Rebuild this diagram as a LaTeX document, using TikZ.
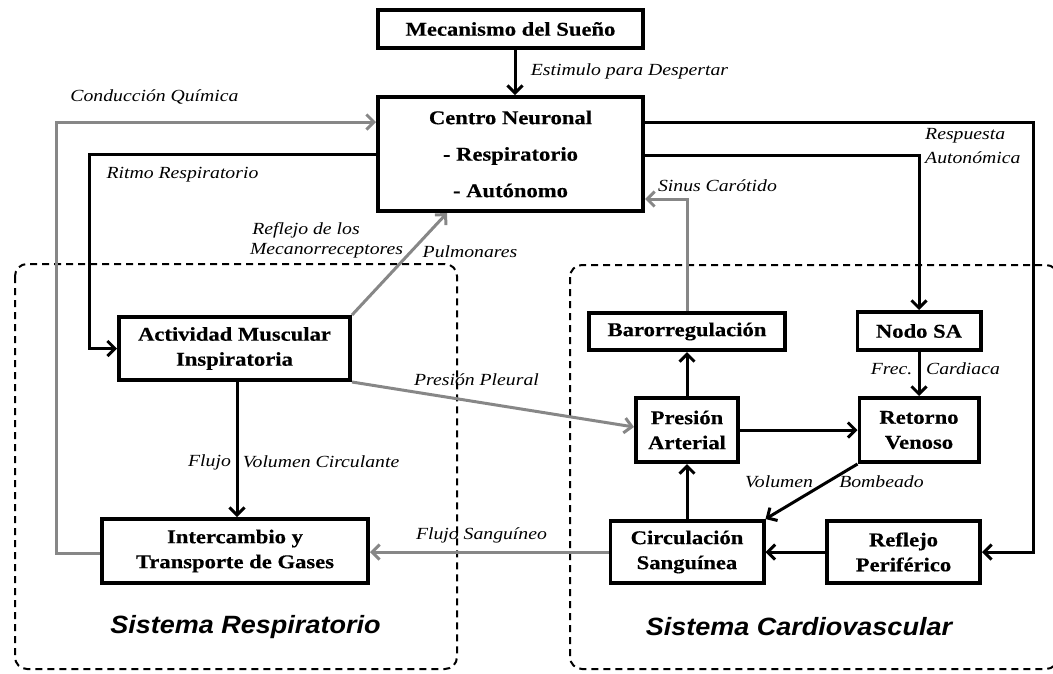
\documentclass[tikz,border=0pt]{standalone}
\usepackage{fontspec}
\setmainfont{Liberation Serif}[FakeStretch=1.16, BoldFeatures={FakeBold=0.4}]
\newfontfamily\sysfont{Liberation Sans}[FakeStretch=1.08]
\usetikzlibrary{arrows.meta}
\definecolor{linkgray}{RGB}{135,135,135}
\tikzset{
  blk/.style={draw=black, line width=3.6pt, fill=white, align=center, inner sep=0pt,
    font=\bfseries\fontsize{19.5}{25}\selectfont},
  lbl/.style={inner sep=0pt, font=\itshape\fontsize{17}{20}\selectfont},
  conn/.style={line width=3pt, -{Straight Barb[length=7.5pt,width=15pt]}},
  grayconn/.style={conn, draw=linkgray},
  region/.style={draw, line width=2pt, rounded corners=12pt, dash pattern=on 7pt off 5pt},
  systitle/.style={inner sep=0pt, font=\sysfont\bfseries\itshape\fontsize{25}{30}\selectfont}
}
\begin{document}
\begin{tikzpicture}[x=1pt,y=-1pt]
\useasboundingbox (0,0) rectangle (1053,673);

% subsystem regions
\draw[region] (15,264) rectangle (457,669);
\draw[region] (570,265) rectangle (1058,669);

% blocks
\node[blk, minimum width=265.4pt, minimum height=38.4pt] (sueno) at (510.5,29) {Mecanismo del Sueño};
\node[blk, minimum width=265.4pt, minimum height=114.4pt, font=\bfseries\fontsize{19.5}{36.5}\selectfont] (centro) at (510.5,154)
  {Centro Neuronal\\- Respiratorio\\- Autónomo};
\node[blk, minimum width=231.4pt, minimum height=63.4pt] (act) at (234.5,348.5) {Actividad Muscular\\Inspiratoria};
\node[blk, minimum width=266.4pt, minimum height=64.4pt] (inter) at (235,551) {Intercambio y\\Transporte de Gases};
\node[blk, minimum width=196.4pt, minimum height=37.4pt] (baro) at (687,331.5) {Barorregulación};
\node[blk, minimum width=123.4pt, minimum height=38.4pt] (nodo) at (919,331) {Nodo SA};
\node[blk, minimum width=102.4pt, minimum height=64.4pt] (pres) at (687,430) {Presión\\Arterial};
\node[blk, minimum width=119.4pt, minimum height=64.4pt] (ret) at (919,430) {Retorno\\Venoso};
\node[blk, minimum width=153.4pt, minimum height=62.4pt] (circ) at (687,552) {Circulación\\Sanguínea};
\node[blk, minimum width=153.4pt, minimum height=62.4pt] (refl) at (903.5,552) {Reflejo\\Periférico};

% connectors
\draw[conn] ([xshift=4.5pt]sueno.south) -- ([xshift=4.5pt]centro.north);
\draw[grayconn] ([yshift=-2pt]inter.west) -- ++(-44,0) |- ([yshift=32pt]centro.west);
\draw[conn] (centro.west) -- ++(-287,0) |- (act.west);
\draw[grayconn] (act.north east) -- ([xshift=-63.5pt]centro.south);
\draw[conn] ([xshift=2.5pt]act.south) -- ([xshift=2.5pt]act.south |- inter.north);
\draw[grayconn] (act.south east) -- ([yshift=3pt]pres.west);
\draw[grayconn] (circ.west) -- (circ.west -| inter.east);
\draw[grayconn] (baro.north) |- ([yshift=-45pt]centro.east);
\draw[conn] (pres.north) -- (baro.south);
\draw[conn] (circ.north) -- (pres.south);
\draw[conn] (pres.east) -- (ret.west);
\draw[conn] (nodo.south) -- (ret.north);
\draw[conn] (ret.south west) -- (circ.north east);
\draw[conn] (refl.west) -- (circ.east);
\draw[conn] ([yshift=32pt]centro.east) -- ++(388,0) |- (refl.east);
\draw[conn] ([yshift=-1pt]centro.east) -| (nodo.north);

% connector labels
\node[lbl] (lestim) at (629.5,71) {Estimulo para Despertar};
\node[lbl] (lcond) at (154.5,97) {Conducción Química};
\node[lbl] (lritmo) at (182.5,175) {Ritmo Respiratorio};
\node[lbl] (lrefa) at (306,230) {Reflejo de los};
\node[lbl] (lrefb) at (326.5,251) {Mecanorreceptores};
\node[lbl] (lrefc) at (470,252) {Pulmonares};
\node[lbl] (lpleu) at (476.5,380) {Presión Pleural};
\node[lbl] (lfluj) at (209.5,462) {Flujo};
\node[lbl] (lvolc) at (321,462) {Volumen Circulante};
\node[lbl] (lsang) at (481.5,535) {Flujo Sanguíneo};
\node[lbl] (lsinus) at (717.5,186) {Sinus Carótido};
\node[lbl, anchor=west] (lresp) at (925,136) {Respuesta};
\node[lbl, anchor=west] (lauto) at (925,158) {Autonómica};
\node[lbl] (lfrec) at (891.5,369) {Frec.};
\node[lbl] (lcard) at (963,369) {Cardiaca};
\node[lbl] (lvolb) at (779,482) {Volumen};
\node[lbl] (lbomb) at (881.5,482) {Bombeado};

% subsystem titles
\node[systitle] (tresp) at (245.5,627) {Sistema Respiratorio};
\node[systitle] (tcard) at (799,627) {Sistema Cardiovascular};
\end{tikzpicture}
\end{document}
